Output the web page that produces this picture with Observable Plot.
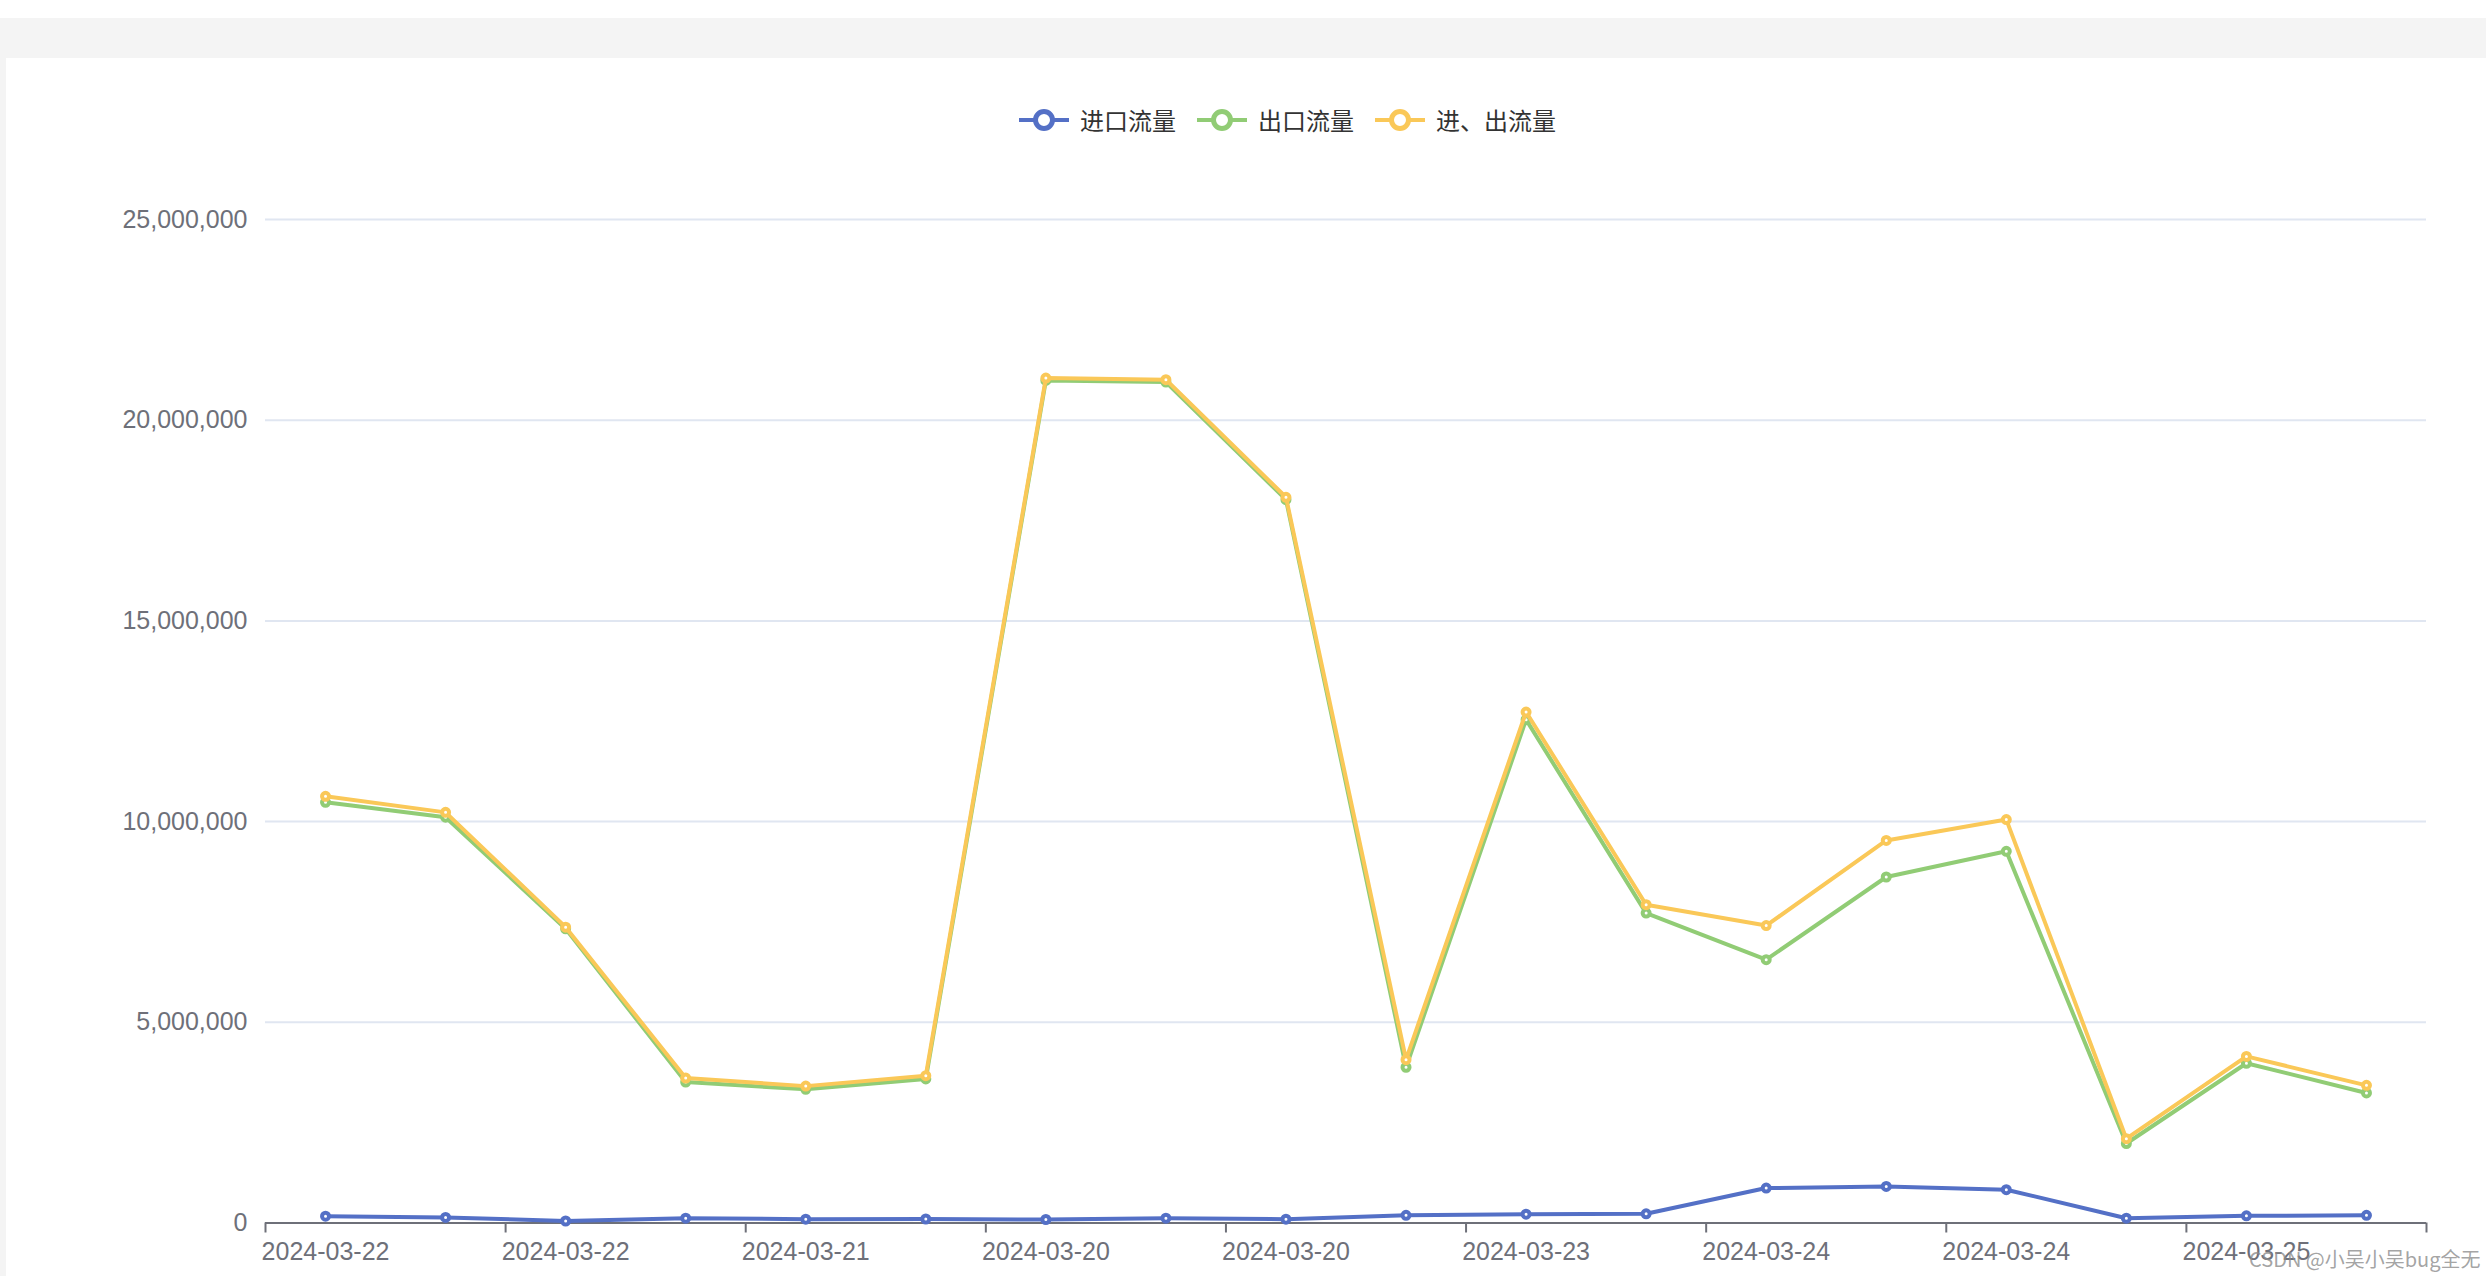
<!DOCTYPE html>
<html>
<head>
<meta charset="utf-8">
<script src="https://cdn.jsdelivr.net/npm/d3@7"></script>
<script src="https://cdn.jsdelivr.net/npm/@observablehq/plot@0.6"></script>
<style>
  html, body { margin: 0; padding: 0; background: #ffffff; }
  body { position: relative; width: 2486px; height: 1276px; overflow: hidden; }
  #bandTop { position: absolute; left: 0; top: 18px; width: 2486px; height: 40px; background: #f4f4f4; }
  #bandLeft { position: absolute; left: 0; top: 58px; width: 6px; height: 1218px; background: #f4f4f4; }
  #chart { position: absolute; left: 0; top: 0; }
  #legend { position: absolute; left: 1019px; top: 106px; height: 28px; display: flex; align-items: center;
            font-family: "Noto Sans CJK SC", "Noto Sans", sans-serif; font-size: 24px; color: #333; z-index: 2; }
  .item { display: flex; align-items: center; margin-right: 21px; }
  .item span { margin-left: 11px; line-height: 28px; }
  #mark { position: absolute; left: 2249px; top: 1244px; font-family: "Noto Sans CJK SC", "Noto Sans", sans-serif;
          font-size: 20px; color: rgba(140,140,140,0.8); white-space: nowrap; z-index: 2; }
</style>
</head>
<body>
<div id="bandTop"></div>
<div id="bandLeft"></div>
<div id="chart"></div>
<div id="legend"></div>
<div id="mark">CSDN @小吴小吴bug全无</div>
<script>
// ---- data ----
const dates = ["2024-03-22","2024-03-22","2024-03-22","2024-03-21","2024-03-21","2024-03-21",
               "2024-03-20","2024-03-20","2024-03-20","2024-03-23","2024-03-23","2024-03-23",
               "2024-03-24","2024-03-24","2024-03-24","2024-03-25","2024-03-25","2024-03-25"];
const importFlow = [170000,140000,50000,120000,95000,100000,87000,120000,95000,190000,220000,230000,870000,910000,830000,120000,180000,190000];
const exportFlow = [10480000,10110000,7330000,3510000,3330000,3590000,20990000,20950000,18020000,3880000,12540000,7720000,6560000,8620000,9260000,1980000,3980000,3240000];
const totalFlow = [10630000,10230000,7370000,3610000,3410000,3670000,21050000,21010000,18080000,4070000,12730000,7930000,7410000,9530000,10050000,2100000,4150000,3430000];
const seriesNames = ["进口流量", "出口流量", "进、出流量"];
const seriesColors = ["#5470c6", "#91cc75", "#fac858"];
const yTicks = [0, 5000000, 10000000, 15000000, 20000000, 25000000];

// ---- build ----
const allSeries = [importFlow, exportFlow, totalFlow].map((vals, s) =>
  vals.map((v, i) => ({i, v, s})));
const n = dates.length;
const labelTicks = d3.range(0, n, 2);
const boundaryTicks = d3.range(0, n + 1, 2).map(k => k - 0.5);

const marks = [
  Plot.gridY(yTicks.slice(1), {stroke: "#e0e6f1", strokeOpacity: 1, strokeWidth: 2}),
  Plot.axisY(yTicks, {tickSize: 0, tickPadding: 18, tickFormat: d3.format(","), fill: "#6e7079", fontSize: 25}),
  Plot.ruleY([0], {stroke: "#6e7079", strokeWidth: 2}),
  Plot.axisX(boundaryTicks, {tickSize: 10, tickFormat: () => "", stroke: "#6e7079", strokeWidth: 2}),
  Plot.axisX(labelTicks, {tickSize: 0, tickPadding: 19, tickFormat: i => dates[i], fill: "#6e7079", fontSize: 25})
];
allSeries.forEach((data, s) => {
  marks.push(Plot.line(data, {x: "i", y: "v", stroke: seriesColors[s], strokeWidth: 4}));
  marks.push(Plot.dot(data, {x: "i", y: "v", r: 3.5, fill: "#ffffff", stroke: seriesColors[s], strokeWidth: 4}));
});

const chart = Plot.plot({
  width: 2486,
  height: 1276,
  marginTop: 219,
  marginBottom: 53.5,
  marginLeft: 265,
  marginRight: 60,
  x: {type: "linear", domain: [-0.5, n - 0.5], label: null},
  y: {type: "linear", domain: [0, 25000000], label: null},
  style: {background: "transparent", fontFamily: "'Liberation Sans', Arial, sans-serif", fontSize: "25px", color: "#6e7079", overflow: "visible"},
  marks
});
document.getElementById("chart").appendChild(chart);

// ---- legend ----
const legend = document.getElementById("legend");
seriesNames.forEach((name, s) => {
  const item = document.createElement("div");
  item.className = "item";
  item.innerHTML = `<svg width="50" height="28" viewBox="0 0 50 28">
      <line x1="0" y1="14" x2="50" y2="14" stroke="${seriesColors[s]}" stroke-width="4"/>
      <circle cx="25" cy="14" r="8.5" fill="#fff" stroke="${seriesColors[s]}" stroke-width="5"/>
    </svg><span>${name}</span>`;
  legend.appendChild(item);
});
</script>
</body>
</html>
